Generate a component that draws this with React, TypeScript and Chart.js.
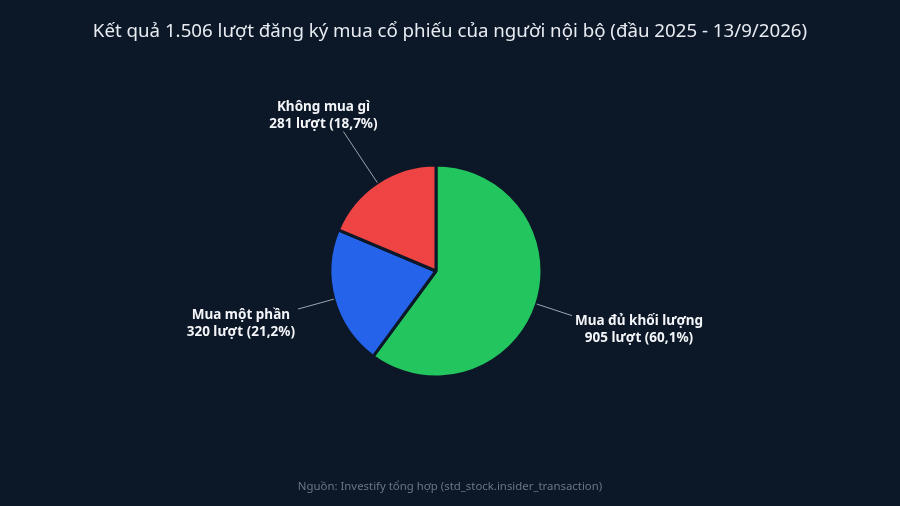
import { useEffect, useRef } from 'react';
import { Chart, registerables } from 'chart.js';

Chart.register(...registerables);

const categories = ['Mua đủ khối lượng', 'Mua một phần', 'Không mua gì'];
const counts = [905, 320, 281];
const sliceColors = ['#22c55e', '#2563eb', '#ef4444'];

const TITLE = 'Kết quả 1.506 lượt đăng ký mua cổ phiếu của người nội bộ (đầu 2025 - 13/9/2026)';
const SOURCE = 'Nguồn: Investify tổng hợp (std_stock.insider_transaction)';
const BG = '#0c1727';
const FONT = '"Noto Sans", "DejaVu Sans", sans-serif';

const total = counts.reduce((a, b) => a + b, 0);
const pctText = (v: number) => ((v / total) * 100).toFixed(1).replace('.', ',');

// background, title, source and outside labels with leader lines
const decorPlugin = {
  id: 'decor',
  beforeDraw(chart: any) {
    const ctx = chart.ctx;
    ctx.save();
    ctx.fillStyle = BG;
    ctx.fillRect(0, 0, chart.width, chart.height);
    ctx.restore();
  },
  afterDraw(chart: any) {
    const ctx = chart.ctx;
    ctx.save();
    ctx.textAlign = 'center';
    ctx.textBaseline = 'middle';
    ctx.fillStyle = '#e8ecf2';
    ctx.font = `18.7px ${FONT}`;
    ctx.fillText(TITLE, chart.width / 2, 32);

    ctx.fillStyle = '#6b7585';
    ctx.font = `11.4px ${FONT}`;
    ctx.fillText(SOURCE, chart.width / 2, 487);

    const meta = chart.getDatasetMeta(0);
    ctx.font = `bold 13.5px ${FONT}`;
    meta.data.forEach((arc: any, i: number) => {
      const mid = (arc.startAngle + arc.endAngle) / 2;
      const dx = Math.cos(mid);
      const dy = Math.sin(mid);
      const R = arc.outerRadius;
      const lines = [categories[i], `${counts[i]} lượt (${pctText(counts[i])}%)`];
      const maxW = Math.max(...lines.map((l) => ctx.measureText(l).width));
      const vertical = Math.abs(dy) > 0.8;
      const k = vertical ? 1.58 : 1.35;
      const ax = arc.x + dx * R * k;
      const ay = arc.y + dy * R * k;

      ctx.strokeStyle = '#9aa4b2';
      ctx.lineWidth = 1;
      ctx.beginPath();
      ctx.moveTo(arc.x + dx * R, arc.y + dy * R);
      ctx.lineTo(ax, ay);
      ctx.stroke();

      let cx: number;
      let y0: number;
      if (vertical) {
        cx = ax + dx * 36;
        y0 = dy < 0 ? ay - 24 : ay + 9;
      } else {
        const side = dx > 0 ? 1 : -1;
        cx = ax + side * (3 + maxW / 2);
        y0 = ay + 6;
      }
      ctx.fillStyle = '#f3f5f8';
      lines.forEach((l, j) => ctx.fillText(l, cx, y0 + j * 17));
    });
    ctx.restore();
  },
};

const PieChart = () => {
  const canvasRef = useRef<HTMLCanvasElement | null>(null);
  const chartRef = useRef<Chart | null>(null);

  useEffect(() => {
    const ctx = canvasRef.current?.getContext('2d');
    if (!ctx) return;
    chartRef.current = new Chart(ctx, {
      type: 'pie',
      data: {
        labels: categories,
        datasets: [
          {
            data: counts,
            backgroundColor: sliceColors,
            borderColor: BG,
            borderWidth: 3,
          },
        ],
      },
      options: {
        responsive: false,
        animation: false,
        layout: { padding: { left: 328.5, right: 356.5, top: 163.5, bottom: 127.5 } },
        plugins: {
          legend: { display: false },
          tooltip: { enabled: false },
        },
      },
      plugins: [decorPlugin],
    });
    return () => chartRef.current?.destroy();
  }, []);

  return <canvas ref={canvasRef} width={900} height={506} style={{ display: 'block' }} />;
};

export default function App() {
  document.body.style.margin = '0';
  document.body.style.background = BG;
  return (
    <div style={{ width: 900, height: 506 }}>
      <PieChart />
    </div>
  );
}
